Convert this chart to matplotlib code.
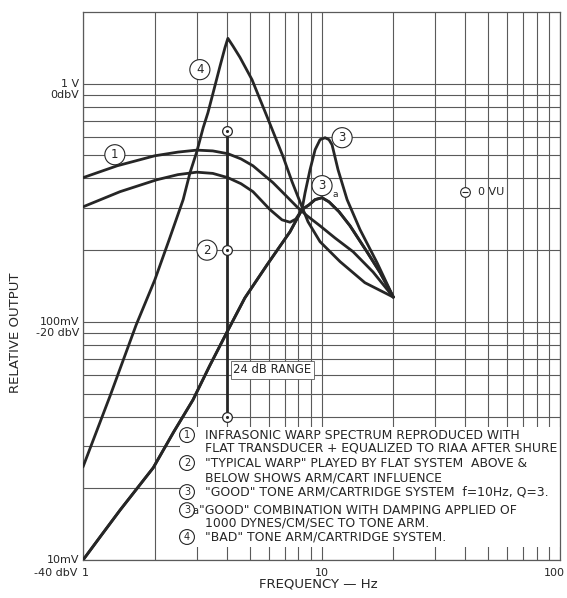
import matplotlib
matplotlib.use("Agg")
import matplotlib.pyplot as plt
from matplotlib.patches import Rectangle
from matplotlib.ticker import FixedLocator, NullFormatter

# ---------------------------------------------------------------
# curves: frequency [Hz] vs relative output [V]
# ---------------------------------------------------------------
# (1) infrasonic warp spectrum, flat transducer + RIAA
c1_f = [1.0, 1.39, 2.0, 2.5, 3.0, 3.5, 4.05, 4.6, 5.16, 6.26, 7.17, 7.89, 8.69, 9.86, 11.39, 13.56, 16.44, 20.0]
c1_v = [0.403, 0.452, 0.498, 0.516, 0.526, 0.522, 0.508, 0.483, 0.452, 0.384, 0.335, 0.304, 0.279, 0.253,
        0.225, 0.197, 0.162, 0.127]

# (2) "typical warp" played by flat system
c2_f = [1.0, 1.43, 2.04, 2.5, 3.0, 3.5, 4.05, 4.6, 5.16, 6.08, 6.83, 7.38, 7.80, 8.28,
        8.87, 9.40, 10.05, 10.75, 11.84, 13.17, 15.5, 17.6, 20.0]
c2_v = [0.304, 0.352, 0.395, 0.415, 0.425, 0.420, 0.403, 0.380, 0.352, 0.296, 0.268, 0.262, 0.270, 0.296,
        0.310, 0.326, 0.332, 0.319, 0.290, 0.253, 0.197, 0.161, 0.127]

# (3) "good" arm/cartridge, f=10 Hz, Q=3
c3_f = [1.0, 1.2, 1.43, 1.97, 2.4, 2.89, 3.4, 4.02, 4.77, 5.91, 7.38, 8.28, 8.53, 8.95, 9.40, 9.86,
        10.35, 10.75, 11.07, 11.73, 12.80, 14.5, 17.1, 20.0]
c3_v = [0.0100, 0.0128, 0.0162, 0.0244, 0.0345, 0.047, 0.0655, 0.0908, 0.126, 0.1735, 0.239, 0.296, 0.348,
        0.435, 0.528, 0.582, 0.593, 0.582, 0.554, 0.435, 0.326, 0.244, 0.177, 0.127]

# (3a) "good" combination with damping
c3a_f = [1.0, 1.2, 1.43, 1.97, 2.4, 2.89, 3.4, 4.02, 4.77, 5.91, 7.38, 8.28,
         8.87, 9.40, 10.05, 10.75, 11.84, 13.17, 15.5, 17.6, 20.0]
c3a_v = [0.0100, 0.0128, 0.0162, 0.0244, 0.0345, 0.047, 0.0655, 0.0908, 0.126, 0.1735, 0.239, 0.296,
         0.310, 0.326, 0.332, 0.319, 0.290, 0.253, 0.197, 0.161, 0.127]

# (4) "bad" arm/cartridge
c4_f = [1.0, 1.30, 1.67, 2.0, 2.3, 2.63, 2.81, 3.0, 3.19, 3.34, 3.54, 3.75, 3.94, 4.05,
        4.25, 4.55, 5.11, 5.91, 6.90, 7.52, 8.28, 8.78, 9.86, 11.96, 15.2, 20.0]
c4_v = [0.0246, 0.049, 0.097, 0.150, 0.222, 0.326, 0.423, 0.518, 0.653, 0.755, 0.944, 1.18, 1.42, 1.55,
        1.44, 1.29, 1.04, 0.727, 0.494, 0.388, 0.304, 0.263, 0.217, 0.179, 0.146, 0.127]

# 24 dB range marker at 4 Hz
range_f = 4.0
range_lo = 0.04
range_db = 24
range_hi = range_lo * 10 ** (range_db / 20)
range_mid = 0.2

vu_f, vu_v = 40.0, 0.352

legend_lines = [
    ("1", 'INFRASONIC WARP SPECTRUM REPRODUCED WITH'),
    (None, 'FLAT TRANSDUCER + EQUALIZED TO RIAA AFTER SHURE'),
    ("2", '"TYPICAL WARP" PLAYED BY FLAT SYSTEM  ABOVE &'),
    (None, 'BELOW SHOWS ARM/CART INFLUENCE'),
    ("3", '"GOOD" TONE ARM/CARTRIDGE SYSTEM  f=10Hz, Q=3.'),
    ("3a", '"GOOD" COMBINATION WITH DAMPING APPLIED OF'),
    (None, '1000 DYNES/CM/SEC TO TONE ARM.'),
    ("4", '"BAD" TONE ARM/CARTRIDGE SYSTEM.'),
]

INK = '#262626'
GRID = '#5a5a5a'

fig = plt.figure(figsize=(5.67, 5.98), dpi=100)
fig.patch.set_facecolor('white')
ax = fig.add_axes([0.1464, 0.0635, 0.8413, 0.9165])
ax.set_xscale('log')
ax.set_yscale('log')
ax.set_xlim(1, 100)
ax.set_ylim(0.01, 2.0)

# grid: decades plus 2..9 subdivisions (none above 1 V)
ax.xaxis.set_major_locator(FixedLocator([1, 10, 100]))
ax.xaxis.set_minor_locator(FixedLocator([2, 3, 4, 5, 6, 7, 8, 9, 20, 30, 40, 50, 60, 70, 80, 90]))
ax.yaxis.set_major_locator(FixedLocator([0.01, 0.1, 1.0]))
ax.yaxis.set_minor_locator(FixedLocator([0.02, 0.03, 0.04, 0.05, 0.06, 0.07, 0.08, 0.09,
                                         0.2, 0.3, 0.4, 0.5, 0.6, 0.7, 0.8, 0.9]))
ax.xaxis.set_minor_formatter(NullFormatter())
ax.yaxis.set_minor_formatter(NullFormatter())
ax.set_xticklabels([])
ax.set_yticklabels([])
ax.tick_params(which='both', length=0)
ax.grid(which='both', color=GRID, lw=0.8)
ax.set_axisbelow(True)
for sp in ax.spines.values():
    sp.set_color(GRID)
    sp.set_linewidth(0.9)

# white legend panel over the lower right grid
ax.add_patch(Rectangle((0.203, 0.024), 0.797, 0.219, transform=ax.transAxes,
                       facecolor='white', edgecolor='none', zorder=1))

for f, v in [(c1_f, c1_v), (c2_f, c2_v), (c3_f, c3_v), (c3a_f, c3a_v), (c4_f, c4_v)]:
    ax.plot(f, v, color=INK, lw=2.0, solid_joinstyle='round', solid_capstyle='round', zorder=3)

# range marker
ax.plot([range_f, range_f], [range_lo, range_hi], color=INK, lw=2.0, zorder=3)
for yv in (range_lo, range_mid, range_hi):
    ax.plot(range_f, yv, 'o', ms=7, mfc='white', mec=INK, mew=0.9, zorder=4)
    ax.plot(range_f, yv, '.', ms=2.5, color=INK, zorder=5)
ax.text(4.26, 0.0629, '24 dB RANGE', fontsize=8.4, color=INK, ha='left', va='center', zorder=4,
        bbox=dict(boxstyle='square,pad=0.22', fc='white', ec=GRID, lw=0.6))


def circled(x, y, s, size=8.5, pad=0.3, transform=None):
    kw = {} if transform is None else {'transform': transform}
    ax.text(x, y, s, ha='center', va='center', fontsize=size, color=INK, zorder=6,
            bbox=dict(boxstyle='circle,pad=%.2f' % pad, fc='white', ec=INK, lw=0.8), **kw)


circled(1.36, 0.503, '1')
circled(3.09, 1.145, '4')
circled(3.31, 0.2, '2')
circled(12.2, 0.593, '3')
circled(10.05, 0.373, '3')
ax.text(11.45, 0.342, 'a', fontsize=6.5, color=INK, ha='center', va='center', zorder=6)

# 0 VU reference
ax.plot(vu_f, vu_v, 'o', ms=7, mfc='white', mec=INK, mew=0.8, zorder=4)
ax.plot(vu_f, vu_v, '_', ms=4, color=INK, mew=0.8, zorder=5)
ax.text(45.3, vu_v, '0 VU', fontsize=8, color=INK, ha='left', va='center', zorder=4)

# frequency labels under the axis
xlab = ax.get_xaxis_transform()
for xv, s, ha, dx in [(1, '1', 'center', 1.5), (10, '10', 'center', 0), (100, '100', 'right', 3.5)]:
    ax.annotate(s, xy=(xv, 0), xycoords=xlab, xytext=(dx, -9), textcoords='offset points',
                ha=ha, va='center', fontsize=8, color=INK)

# y labels on the left, two per decade line
ylab = ax.get_yaxis_transform()
for yv, s in [(1.0, '1 V'), (0.9, '0dbV'), (0.1, '100mV'), (0.09, '-20 dbV'), (0.01, '10mV')]:
    ax.text(-0.008, yv, s, transform=ylab, ha='right', va='center', fontsize=8, color=INK)
ax.annotate('-40 dbV', xy=(-0.012, 0.01), xycoords=ylab, xytext=(0, -9), textcoords='offset points',
            ha='right', va='center', fontsize=8, color=INK)

ax.set_xlabel('FREQUENCY — Hz', fontsize=9.5, color=INK)
ax.xaxis.set_label_coords(0.493, -0.031)
ax.set_ylabel('RELATIVE OUTPUT', fontsize=9.5, color=INK)
ax.yaxis.set_label_coords(-0.128, 0.414)

# legend text
rows_y = [0.228, 0.204, 0.177, 0.150, 0.124, 0.091, 0.067, 0.042]
for (tag, txt), yy in zip(legend_lines, rows_y):
    x_txt = 0.256
    if tag is not None:
        circled(0.218, yy, tag[0], size=7, pad=0.25, transform=ax.transAxes)
        if tag == '3a':
            ax.text(0.236, yy - 0.002, 'a', transform=ax.transAxes, fontsize=7, color=INK,
                    ha='center', va='center', zorder=6)
            x_txt = 0.244
    ax.text(x_txt, yy, txt, transform=ax.transAxes, fontsize=8.9,
            color=INK, ha='left', va='center', zorder=6)

fig.savefig('out.png', dpi=100, facecolor='white')
